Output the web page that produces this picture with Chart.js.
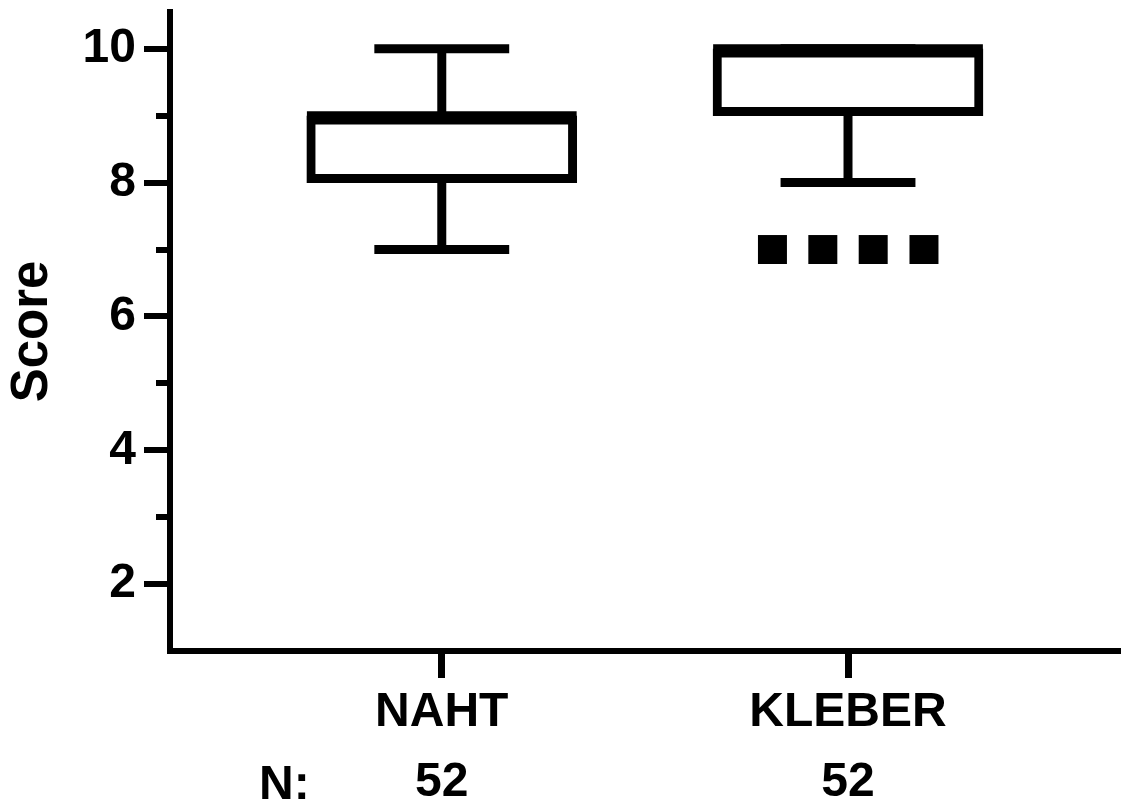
<!DOCTYPE html>
<html>
<head>
<meta charset="utf-8">
<script src="https://cdn.jsdelivr.net/npm/chart.js@4"></script>
<style>
  html, body { margin: 0; padding: 0; background: #fff; }
  #wrap { width: 1121px; height: 807px; position: relative; }
</style>
</head>
<body>
<div id="wrap"><canvas id="c" width="1121" height="807"></canvas></div>
<script>
// ---- data ----
const categories = ["NAHT", "KLEBER"];
const nCounts = [52, 52];
const whiskerLow = [7, 8];
const q1 = [8, 9];
const median = [9, 10];
const q3 = [9, 10];
const whiskerHigh = [10, 10];
const outliers = [[], [7, 7, 7, 7]];
const yMajorTicks = [2, 4, 6, 8, 10];
const yMinorTicks = [3, 5, 7, 9];

// ---- layout/style constants ----
const FONT = '"Liberation Sans", Arial, Helvetica, sans-serif';
const BOX_HALF = 0.332;
const CAP_HALF = 0.166;
const JITTER = [-0.186, -0.062, 0.062, 0.187];

const datasets = [];
// boxes
datasets.push({
  type: 'bar',
  data: categories.map((c, i) => ({ x: i, y: [q1[i], q3[i]] })),
  backgroundColor: '#ffffff',
  borderColor: '#000000',
  borderWidth: 9,
  borderSkipped: false,
  barThickness: 270,
  order: 5
});
function seg(points, w) {
  return {
    type: 'scatter', showLine: true, data: points,
    borderColor: '#000', backgroundColor: '#000', borderWidth: w,
    pointRadius: 0, pointHoverRadius: 0, borderCapStyle: 'butt', order: 1
  };
}
categories.forEach((c, i) => {
  if (whiskerHigh[i] > q3[i]) datasets.push(seg([{x: i, y: q3[i]}, {x: i, y: whiskerHigh[i]}], 9));
  if (whiskerLow[i] < q1[i]) datasets.push(seg([{x: i, y: whiskerLow[i]}, {x: i, y: q1[i]}], 9));
  datasets.push(seg([{x: i - CAP_HALF, y: whiskerHigh[i]}, {x: i + CAP_HALF, y: whiskerHigh[i]}], 9));
  datasets.push(seg([{x: i - CAP_HALF, y: whiskerLow[i]}, {x: i + CAP_HALF, y: whiskerLow[i]}], 9));
  datasets.push(seg([{x: i - BOX_HALF, y: median[i]}, {x: i + BOX_HALF, y: median[i]}], 9));
  if (outliers[i].length) {
    datasets.push({
      type: 'scatter',
      data: outliers[i].map((v, k) => ({ x: i + JITTER[k % JITTER.length], y: v })),
      pointStyle: 'rect', pointRadius: 20.5, pointHoverRadius: 20.5,
      backgroundColor: '#000', borderWidth: 0, order: 0
    });
  }
});

const extras = {
  id: 'extras',
  afterDraw(chart) {
    const ctx = chart.ctx;
    const ys = chart.scales.y;
    const left = chart.chartArea.left;
    ctx.save();
    ctx.strokeStyle = '#000';
    ctx.lineWidth = 6;
    yMinorTicks.forEach(v => {
      const y = Math.round(ys.getPixelForValue(v));
      ctx.beginPath();
      ctx.moveTo(left - 14, y);
      ctx.lineTo(left - 3, y);
      ctx.stroke();
    });
    ctx.fillStyle = '#000';
    ctx.font = 'bold 48px ' + FONT;
    ctx.textAlign = 'left';
    ctx.textBaseline = 'alphabetic';
    ctx.fillText('N:', 259, 799);
    ctx.restore();
  }
};

function zeroPad(s) { s.paddingLeft = 0; s.paddingRight = 0; s.paddingTop = 0; s.paddingBottom = 0; }

new Chart(document.getElementById('c'), {
  type: 'bar',
  data: { datasets },
  options: {
    responsive: false,
    animation: false,
    events: [],
    layout: { autoPadding: false, padding: { top: 12, right: 0, left: 0, bottom: 0 } },
    plugins: { legend: { display: false }, tooltip: { enabled: false } },
    scales: {
      x: {
        type: 'linear',
        offset: false,
        min: -0.669, max: 1.672,
        afterBuildTicks: s => { s.ticks = categories.map((c, i) => ({ value: i })); },
        afterFit: s => { s.height = 156; zeroPad(s); },
        ticks: {
          autoSkip: false, maxRotation: 0,
          color: '#000',
          font: { family: FONT, size: 48, weight: 'bold', lineHeight: 1.45 },
          padding: 0,
          callback: (v) => { const i = Math.round(v); return [categories[i], String(nCounts[i])]; }
        },
        grid: { offset: false, drawOnChartArea: false, drawTicks: true, tickLength: 27, lineWidth: 7, color: '#000' },
        border: { display: true, width: 6, color: '#000' }
      },
      y: {
        type: 'linear',
        min: 1, max: 10.55,
        afterBuildTicks: s => { s.ticks = yMajorTicks.map(v => ({ value: v })); },
        afterFit: s => { s.width = 170; zeroPad(s); },
        title: {
          display: true, text: 'Score', color: '#000',
          font: { family: FONT, size: 51, weight: 'bold', lineHeight: 1.2 },
          padding: { top: 2, bottom: 0 }
        },
        ticks: {
          color: '#000',
          font: { family: FONT, size: 48, weight: 'bold' },
          padding: 8
        },
        grid: { drawOnChartArea: false, drawTicks: true, tickLength: 26, lineWidth: 6, color: '#000' },
        border: { display: true, width: 6, color: '#000' }
      }
    }
  },
  plugins: [extras]
});
</script>
</body>
</html>
